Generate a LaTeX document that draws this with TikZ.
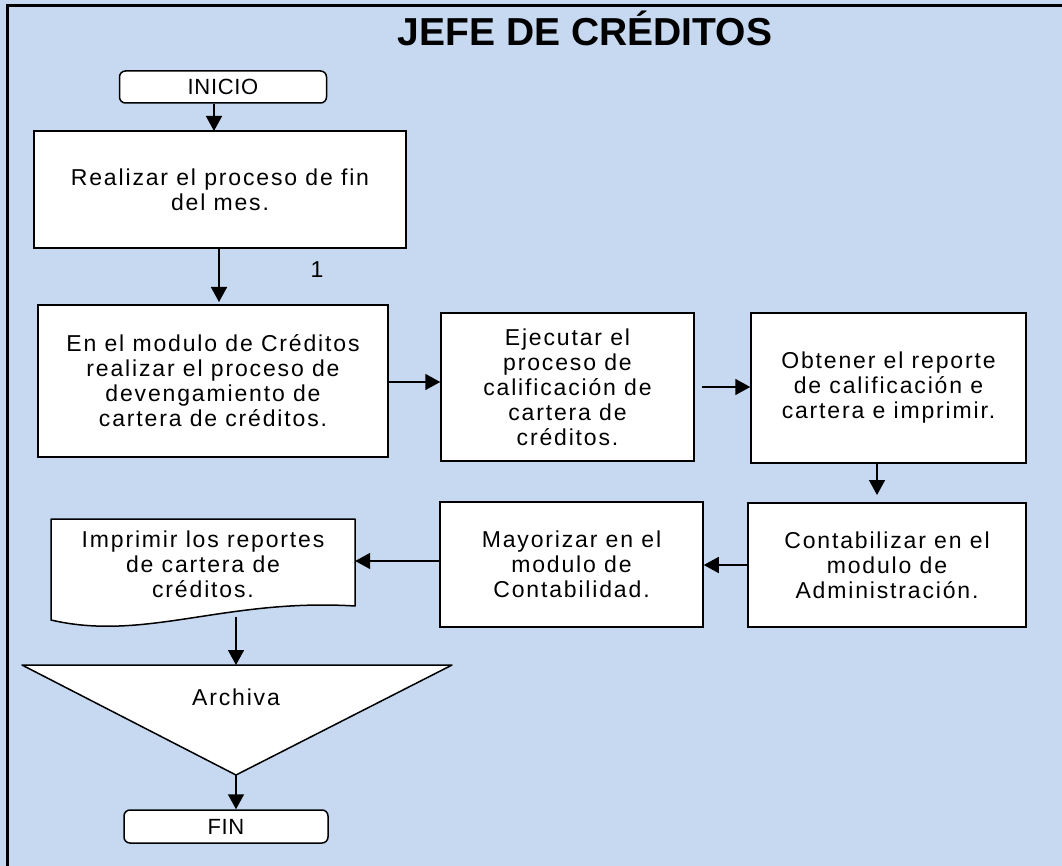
\documentclass[tikz,border=0pt]{standalone}
\usepackage{fontspec}
\setmainfont{Liberation Sans}
\newfontfamily\bodyfont[LetterSpace=8]{Liberation Sans}
\newfontfamily\termfont[LetterSpace=3]{Liberation Sans}
\usetikzlibrary{arrows.meta}
\definecolor{bgblue}{RGB}{198,217,241}
\tikzset{
  box/.style={draw, line width=1.5pt, fill=white, inner sep=0pt, align=center,
    font=\bodyfont\fontsize{23}{25}\selectfont},
  term/.style={box, rounded corners=6pt, font=\termfont\fontsize{22}{23}\selectfont},
  txt/.style={inner sep=0pt, align=center, font=\bodyfont\fontsize{23}{25}\selectfont},
  shapeline/.style={line width=1.5pt, fill=white, line join=round},
  arr/.style={line width=1.6pt, -{Triangle[length=15pt,width=16pt]}}
}
\begin{document}
\begin{tikzpicture}[x=1pt,y=-1pt]
\useasboundingbox (0,0) rectangle (1062,866);
\fill[bgblue] (0,0) rectangle (1062,866);
\draw[line width=3pt] (7.5,866) -- (7.5,6) -- (1062,6);

\node[font=\bfseries\fontsize{39}{42}\selectfont] (title) at (585,28) {JEFE DE CRÉDITOS};

\node[term, minimum width=207, minimum height=32] (inicio) at (223,87) {INICIO};
\node[box, minimum width=372, minimum height=117] (b1) at (220,189.5) {Realizar el proceso de fin\\del mes.};
\node[box, minimum width=350, minimum height=152] (b2) at (213,381) {En el modulo de Créditos\\realizar el proceso de\\devengamiento de\\cartera de créditos.};
\node[box, minimum width=253, minimum height=148] (b3) at (567.5,387) {Ejecutar el\\proceso de\\calificación de\\cartera de\\créditos.};
\node[box, minimum width=275, minimum height=150] (b4) at (888.5,388) {Obtener el reporte\\de calificación e\\cartera e imprimir.};
\node[box, minimum width=278, minimum height=124] (b5) at (887,565) {Contabilizar en el\\modulo de\\Administración.};
\node[box, minimum width=263, minimum height=125] (b6) at (571.5,564.5) {Mayorizar en el\\modulo de\\Contabilidad.};

% document shape
\draw[shapeline] (51,519) -- (355,519) -- (355,606) .. controls (225,598) and (145,642) .. (51,620) -- cycle;
\node[txt, minimum width=304, minimum height=87] (doc) at (203,564) {Imprimir los reportes\\de cartera de\\créditos.};

% triangle (archive)
\coordinate (tl) at (22,665);
\coordinate (tr) at (452,665);
\coordinate (tap) at (236,775);
\draw[shapeline] (tl) -- (tr) -- (tap) -- cycle;
\node[txt] (arch) at (236,697) {Archiva};

\node[term, minimum width=204, minimum height=33] (fin) at (226,826.5) {FIN};

\node[txt] (one) at (317,270) {1};

% connectors
\coordinate (a1) at (214,131);
\draw[arr] (inicio.south -| a1) -- (a1);
\coordinate (a2) at (219,302);
\draw[arr] (b1.south -| a2) -- (a2);
\coordinate (a3) at (388,382);
\draw[arr] (a3) -- (b3.west |- a3);
\coordinate (a4) at (702,387);
\draw[arr] (a4) -- (b4.west |- a4);
\coordinate (a5) at (877,495);
\draw[arr] (b4.south -| a5) -- (a5);
\draw[arr] (b5.west) -- (b6.east |- b5.west);
\coordinate (a6) at (440,561);
\draw[arr] (a6) -- (doc.east |- a6);
\coordinate (docb) at (236,617);
\coordinate (ttop) at (236,665);
\draw[arr] (docb) -- (ttop);
\draw[arr] (tap) -- (tap |- fin.north);
\end{tikzpicture}
\end{document}
